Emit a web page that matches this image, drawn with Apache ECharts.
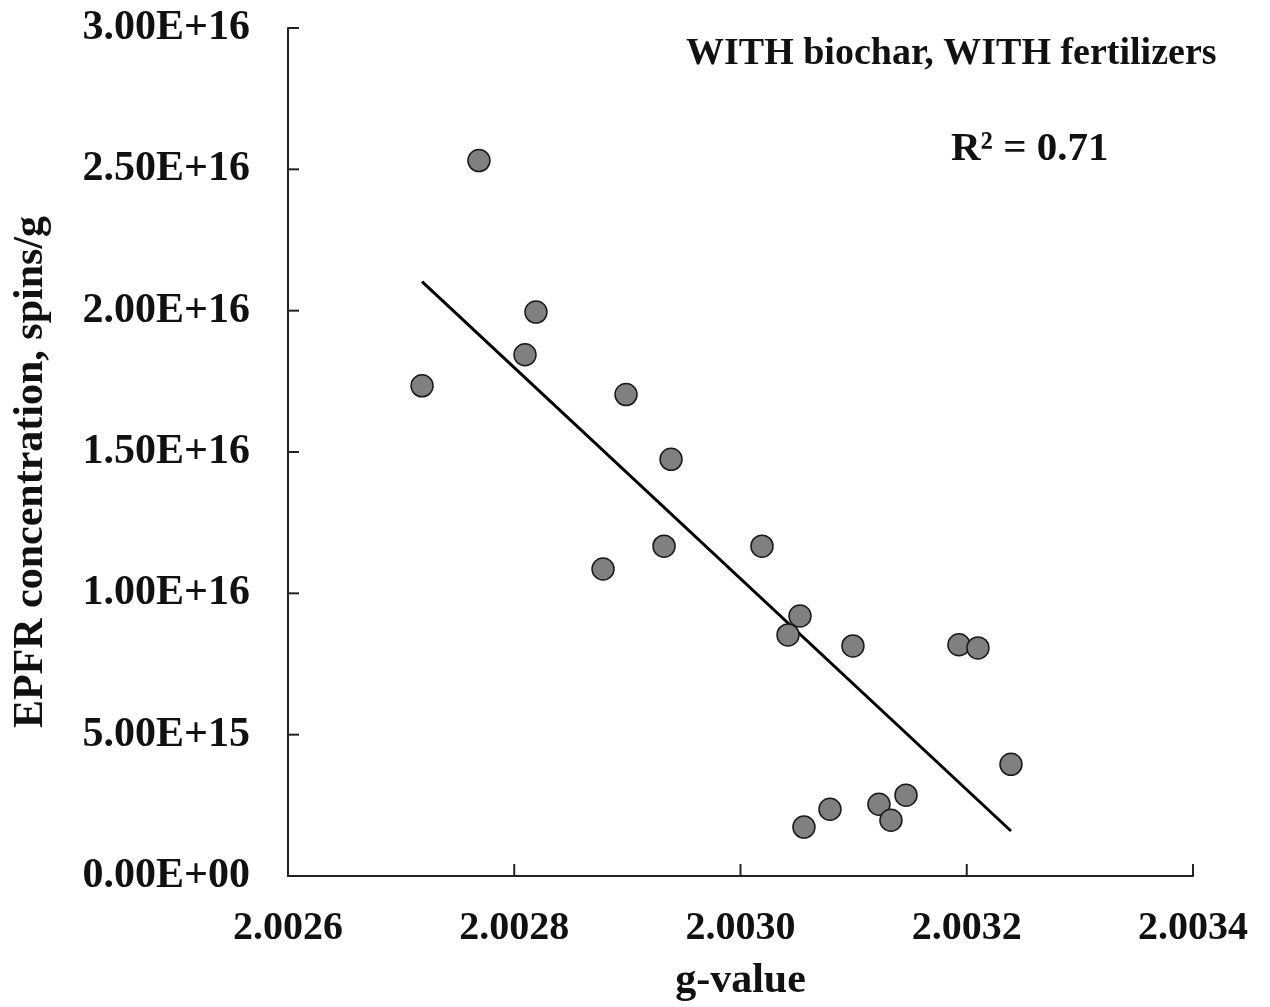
<!DOCTYPE html>
<html>
    <head>
        <meta charset="UTF-8">
        <title>EPFR vs g-value</title>
        <style>
            html, body { margin: 0; padding: 0; background: #ffffff; }
            #main { width: 1270px; height: 1007px; }
        </style>
        <script src="https://cdn.jsdelivr.net/npm/echarts@6/dist/echarts.min.js"></script>
    </head>
    <body>
        <div id="main"></div>
    </body>
    <script>
        // g-value of each sample
        var gValues = [
            2.0027185, 2.0027688, 2.0028095, 2.0028192, 2.0028785,
            2.0028988, 2.0029324, 2.0029386, 2.0030190, 2.0030420,
            2.0030526, 2.0030561, 2.0030791, 2.0030994, 2.0031224,
            2.0031330, 2.0031463, 2.0031931, 2.0032099, 2.0032391
        ];
        // EPFR concentration, spins/g
        var epfr = [
            1.734e16, 2.531e16, 1.844e16, 1.995e16, 1.086e16,
            1.703e16, 1.167e16, 1.474e16, 1.167e16, 0.853e16,
            0.920e16, 0.173e16, 0.236e16, 0.814e16, 0.254e16,
            0.197e16, 0.286e16, 0.818e16, 0.807e16, 0.395e16
        ];

        var xTicks = [2.0026, 2.0028, 2.0030, 2.0032, 2.0034];
        var yTicks = [0, 5e15, 1e16, 1.5e16, 2e16, 2.5e16, 3e16];

        var titleText = 'WITH biochar, WITH fertilizers';
        var r2Text = 'R\u00b2 = 0.71';

        var fontFamily = '"Liberation Serif", "Times New Roman", serif';

        // linear fit through the points
        function fit(xs, ys) {
            var n = xs.length, mx = 0, my = 0, sxy = 0, sxx = 0;
            for (var i = 0; i < n; i++) { mx += xs[i]; my += ys[i]; }
            mx /= n; my /= n;
            for (var i = 0; i < n; i++) {
                sxy += (xs[i] - mx) * (ys[i] - my);
                sxx += (xs[i] - mx) * (xs[i] - mx);
            }
            var k = sxy / sxx;
            return { k: k, b: my - k * mx };
        }

        var f = fit(gValues, epfr);
        var xMin = Math.min.apply(null, gValues);
        var xMax = Math.max.apply(null, gValues);
        var trend = [[xMin, f.k * xMin + f.b], [xMax, f.k * xMax + f.b]];

        var points = gValues.map(function(g, i) { return [g, epfr[i]]; });

        // tick marks that point into the plot: [x, y, dir] with dir 0 = on x axis, 1 = on y axis
        var tickData = xTicks.slice(1).map(function(v) { return [v, yTicks[0], 0]; })
            .concat(yTicks.slice(1).map(function(v) { return [xTicks[0], v, 1]; }));

        function sci(v) {
            if (v === 0) return '0.00E+00';
            var e = Math.floor(Math.log10(Math.abs(v)) + 1e-9);
            var m = v / Math.pow(10, e);
            return m.toFixed(2) + 'E+' + (e < 10 ? '0' + e : e);
        }

        var chart = echarts.init(document.getElementById('main'), null, { renderer: 'canvas' });

        var option = {
            backgroundColor: '#ffffff',
            animation: false,
            textStyle: { fontFamily: fontFamily },
            grid: {
                left: 288,
                right: 77,
                top: 28,
                bottom: 128,
                containLabel: false
            },
            xAxis: {
                type: 'value',
                min: xTicks[0],
                max: xTicks[xTicks.length - 1],
                interval: 0.0002,
                name: 'g-value',
                nameLocation: 'middle',
                nameGap: 84,
                nameTextStyle: { fontFamily: fontFamily, fontWeight: 'bold', fontSize: 42, color: '#111' },
                splitLine: { show: false },
                axisLine: { show: true, lineStyle: { color: '#222', width: 2 } },
                axisTick: { show: false },
                axisLabel: {
                    margin: 33,
                    fontFamily: fontFamily,
                    fontWeight: 'bold',
                    fontSize: 40,
                    color: '#111',
                    formatter: function(v) { return v.toFixed(4); }
                }
            },
            yAxis: {
                type: 'value',
                min: yTicks[0],
                max: yTicks[yTicks.length - 1],
                interval: 5e15,
                name: 'EPFR concentration, spins/g',
                nameLocation: 'middle',
                nameRotate: 90,
                nameGap: 236,
                nameTextStyle: {
                    fontFamily: fontFamily, fontWeight: 'bold', fontSize: 42, color: '#111',
                    padding: [0, 40, 0, 0]
                },
                splitLine: { show: false },
                axisLine: { show: true, lineStyle: { color: '#222', width: 2 } },
                axisTick: { show: false },
                axisLabel: {
                    margin: 38,
                    fontFamily: fontFamily,
                    fontWeight: 'bold',
                    fontSize: 42,
                    color: '#111',
                    formatter: sci
                }
            },
            graphic: [
                {
                    type: 'text',
                    left: 686,
                    top: 35,
                    style: { text: titleText, font: 'bold 38px ' + fontFamily, fill: '#111' }
                },
                {
                    type: 'text',
                    left: 951,
                    top: 129,
                    style: { text: r2Text, font: 'bold 41px ' + fontFamily, fill: '#111' }
                }
            ],
            series: [
                {
                    type: 'custom',
                    data: tickData,
                    clip: false,
                    silent: true,
                    z: 1,
                    renderItem: function(params, api) {
                        var p = api.coord([api.value(0), api.value(1)]);
                        var horiz = api.value(2) === 1;
                        var end = horiz ? [p[0] + 11, p[1]] : [p[0], p[1] - 12];
                        return {
                            type: 'line',
                            shape: { x1: p[0], y1: p[1], x2: end[0], y2: end[1] },
                            style: { stroke: '#222', lineWidth: 2 }
                        };
                    }
                },
                {
                    type: 'line',
                    data: trend,
                    symbol: 'none',
                    z: 2,
                    lineStyle: { color: '#000', width: 3 }
                },
                {
                    type: 'scatter',
                    data: points,
                    symbol: 'circle',
                    symbolSize: 22,
                    z: 3,
                    itemStyle: { color: '#808080', borderColor: '#1a1a1a', borderWidth: 1.5, opacity: 1 }
                }
            ]
        };

        chart.setOption(option);
    </script>
</html>
